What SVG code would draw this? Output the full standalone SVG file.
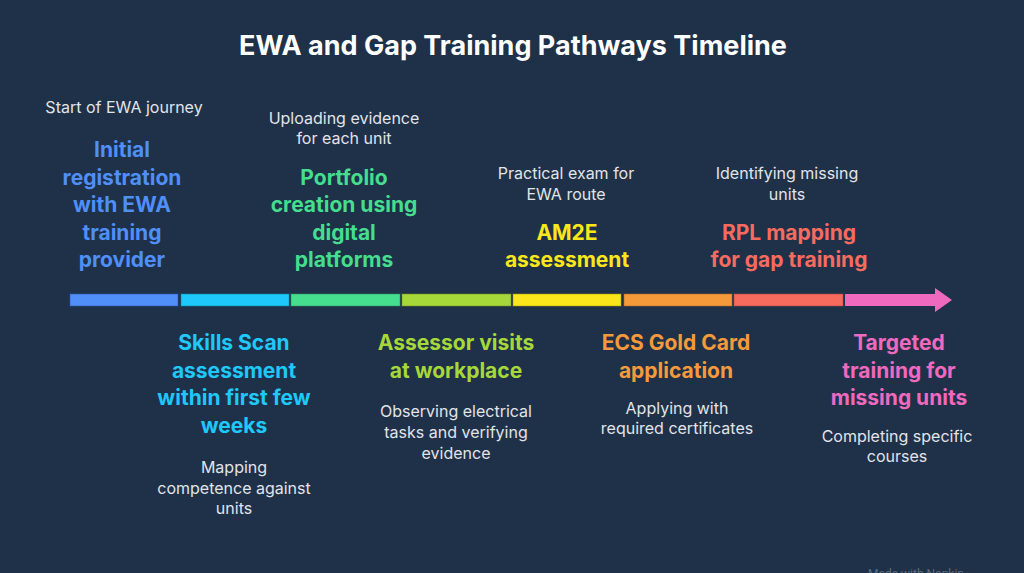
<svg xmlns="http://www.w3.org/2000/svg" width="1024" height="573" viewBox="0 0 1024 573">
<style>
.t{font-family:Inter,Roboto,"Liberation Sans",sans-serif;font-weight:700;font-size:27px;fill:#ffffff;text-anchor:middle}
.h{font-family:Inter,Roboto,"Liberation Sans",sans-serif;font-weight:700;font-size:21px;text-anchor:middle}
.d{font-family:Inter,Roboto,"Liberation Sans",sans-serif;font-size:16px;fill:#e2e4e8;text-anchor:middle}
.seg{stroke-width:1;stroke-opacity:0.55}
</style>
<rect width="1024" height="573" fill="#1e3148"/>
<text class="t" x="513" y="55">EWA and Gap Training Pathways Timeline</text>
<g id="connectors">
<rect class="seg" x="70" y="294" width="108" height="12" fill="#4f8ff7" stroke="#2d5aa8"/>
<rect class="seg" x="181" y="294" width="108" height="12" fill="#1ec8fa" stroke="#1382a8"/>
<rect class="seg" x="291" y="294" width="109" height="12" fill="#45dd8e" stroke="#2a9560"/>
<rect class="seg" x="402" y="294" width="109" height="12" fill="#a6d83a" stroke="#6d9020"/>
<rect class="seg" x="513" y="294" width="108" height="12" fill="#fae61a" stroke="#a89a10"/>
<rect class="seg" x="624" y="294" width="108" height="12" fill="#f59a3b" stroke="#a86a28"/>
<rect class="seg" x="734" y="294" width="109" height="12" fill="#f76b5f" stroke="#a84840"/>
<path d="M845 294 H935 V288 L952 300 L935 312 V306 H845 Z" fill="#ef69bf"/>
</g>
<g id="n1">
<text class="d" x="124" y="113">Start of EWA journey</text>
<g class="h" fill="#4f8ff7">
<text x="122" y="157">Initial</text>
<text x="122" y="185">registration</text>
<text x="122" y="212">with EWA</text>
<text x="122" y="240">training</text>
<text x="122" y="267">provider</text>
</g>
</g>
<g id="n2">
<g class="h" fill="#1ec8fa">
<text x="234" y="350">Skills Scan</text>
<text x="234" y="378">assessment</text>
<text x="234" y="405">within first few</text>
<text x="234" y="433">weeks</text>
</g>
<text class="d" x="234" y="473">Mapping</text>
<text class="d" x="234" y="494">competence against</text>
<text class="d" x="234" y="514">units</text>
</g>
<g id="n3">
<text class="d" x="344" y="124">Uploading evidence</text>
<text class="d" x="344" y="144">for each unit</text>
<g class="h" fill="#45dd8e">
<text x="344" y="185">Portfolio</text>
<text x="344" y="212">creation using</text>
<text x="344" y="240">digital</text>
<text x="344" y="267">platforms</text>
</g>
</g>
<g id="n4">
<g class="h" fill="#a6d83a">
<text x="456" y="350">Assessor visits</text>
<text x="456" y="378">at workplace</text>
</g>
<text class="d" x="456" y="417">Observing electrical</text>
<text class="d" x="456" y="438">tasks and verifying</text>
<text class="d" x="456" y="459">evidence</text>
</g>
<g id="n5">
<text class="d" x="566" y="179">Practical exam for</text>
<text class="d" x="566" y="200">EWA route</text>
<g class="h" fill="#fae61a">
<text x="567" y="240">AM2E</text>
<text x="567" y="267">assessment</text>
</g>
</g>
<g id="n6">
<g class="h" fill="#f59a3b">
<text x="676" y="350">ECS Gold Card</text>
<text x="676" y="378">application</text>
</g>
<text class="d" x="677" y="414">Applying with</text>
<text class="d" x="677" y="434">required certificates</text>
</g>
<g id="n7">
<text class="d" x="787" y="179">Identifying missing</text>
<text class="d" x="787" y="200">units</text>
<g class="h" fill="#f76b5f">
<text x="789" y="240">RPL mapping</text>
<text x="789" y="267">for gap training</text>
</g>
</g>
<g id="n8">
<g class="h" fill="#ef69bf">
<text x="899" y="350">Targeted</text>
<text x="899" y="378">training for</text>
<text x="899" y="405">missing units</text>
</g>
<text class="d" x="897" y="442">Completing specific</text>
<text class="d" x="897" y="462">courses</text>
</g>
<text x="916" y="578" font-family="Roboto,'Liberation Sans',sans-serif" font-size="12" fill="#5d6b7c" text-anchor="middle">Made with Napkin</text>
</svg>
